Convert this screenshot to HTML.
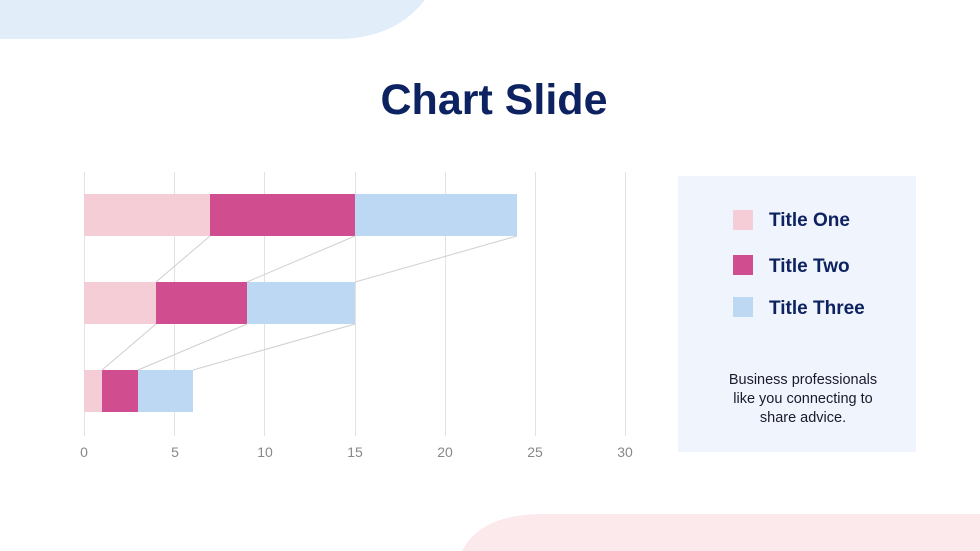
<!DOCTYPE html>
<html><head><meta charset="utf-8"><style>
html,body{margin:0;padding:0;width:980px;height:551px;overflow:hidden;background:#fff;font-family:"Liberation Sans",sans-serif}
</style></head><body>
<svg width="980" height="551" viewBox="0 0 980 551" xmlns="http://www.w3.org/2000/svg">
<path d="M0 0 H425 Q395 38 340 39 H0 Z" fill="#e2edfa"/>
<path d="M980 551 H462 Q480 515 540 514 H980 Z" fill="#fbe9ec"/>
<text x="494" y="114" text-anchor="middle" font-family="Liberation Sans" font-weight="bold" font-size="43" fill="#0d2260">Chart Slide</text>
<g stroke="#e3e3e3" stroke-width="1">
<line x1="84.5" y1="172" x2="84.5" y2="436"/><line x1="174.5" y1="172" x2="174.5" y2="436"/><line x1="264.5" y1="172" x2="264.5" y2="436"/><line x1="355.5" y1="172" x2="355.5" y2="436"/><line x1="535.5" y1="172" x2="535.5" y2="436"/><line x1="625.5" y1="172" x2="625.5" y2="436"/><line x1="445.5" y1="172" x2="445.5" y2="436"/>
</g>
<g>
<rect x="84" y="194" width="126" height="42" fill="#f5cdd7"/><rect x="210" y="194" width="145" height="42" fill="#d04e8f"/><rect x="355" y="194" width="162" height="42" fill="#bdd8f2"/>
<rect x="84" y="282" width="72" height="42" fill="#f5cdd7"/><rect x="156" y="282" width="91" height="42" fill="#d04e8f"/><rect x="247" y="282" width="108" height="42" fill="#bdd8f2"/>
<rect x="84" y="370" width="18" height="42" fill="#f5cdd7"/><rect x="102" y="370" width="36" height="42" fill="#d04e8f"/><rect x="138" y="370" width="55" height="42" fill="#bdd8f2"/>
</g>
<g stroke="#cfcfcf" stroke-width="1">
<line x1="210" y1="236" x2="156" y2="282"/><line x1="355" y1="236" x2="247" y2="282"/><line x1="517" y1="236" x2="355" y2="282"/>
<line x1="156" y1="324" x2="102" y2="370"/><line x1="247" y1="324" x2="138" y2="370"/><line x1="355" y1="324" x2="193" y2="370"/>
</g>
<g font-size="14" fill="#888" text-anchor="middle">
<text x="84" y="457">0</text><text x="175" y="457">5</text><text x="265" y="457">10</text><text x="355" y="457">15</text><text x="445" y="457">20</text><text x="535" y="457">25</text><text x="625" y="457">30</text>
</g>
<rect x="678" y="176" width="238" height="276" fill="#f0f4fc"/>
<rect x="733" y="210" width="20" height="20" fill="#f5cdd7"/>
<rect x="733" y="255" width="20" height="20" fill="#d04e8f"/>
<rect x="733" y="297" width="20" height="20" fill="#bdd8f2"/>
<g font-weight="bold" font-size="19" fill="#0d2260">
<text x="769" y="226">Title One</text><text x="769" y="272">Title Two</text><text x="769" y="314">Title Three</text>
</g>
<g font-size="14.5" fill="#1a1a2e" text-anchor="middle">
<text x="803" y="384">Business professionals</text><text x="803" y="403">like you connecting to</text><text x="803" y="422">share advice.</text>
</g>
</svg>
</body></html>
